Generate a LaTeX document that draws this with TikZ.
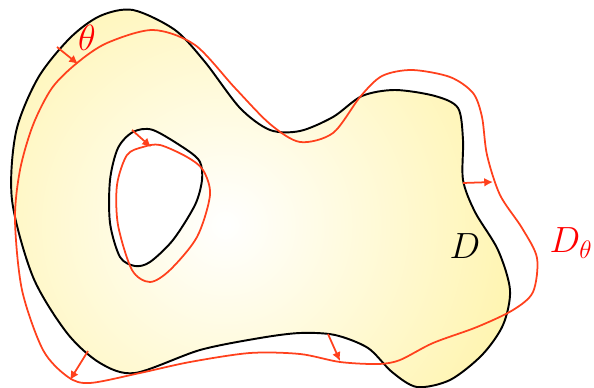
\documentclass[tikz,border=0pt]{standalone}
\usepackage{tikz}
\usetikzlibrary{arrows.meta}
\definecolor{blobyellow}{RGB}{255,238,128}
\definecolor{deformred}{RGB}{255,64,28}

\begin{document}
\begin{tikzpicture}[x=0.02cm, y=-0.02cm,
    boundary/.style={draw=black, line width=1.1pt},
    deformed/.style={draw=deformred, line width=1pt},
    displace/.style={deformred, line width=1pt, arrows={-Latex[width=5pt, length=5pt]}}]
    \useasboundingbox (0,0) rectangle (594,388);

    % domain D with its hole
    \begin{scope}
      \clip plot[smooth cycle] coordinates {(133,10) (175,30) (205,62) (240,108) (270,130) (300,131) (333,117) (362,96) (395,90) (435,96) (458,108) (463,140) (463,180) (475,212) (498,250) (510,290) (503,325) (482,355) (450,380) (417,387) (392,372) (368,348) (335,335) (300,333) (260,338) (200,350) (135,373) (100,363) (67,333) (33,277) (12,200) (16,132) (38,78) (70,38) (100,16)};
      \shade[inner color=white, outer color=blobyellow] (225,225) circle (480);
    \end{scope}
    \path[boundary] plot[smooth cycle] coordinates {(133,10) (175,30) (205,62) (240,108) (270,130) (300,131) (333,117) (362,96) (395,90) (435,96) (458,108) (463,140) (463,180) (475,212) (498,250) (510,290) (503,325) (482,355) (450,380) (417,387) (392,372) (368,348) (335,335) (300,333) (260,338) (200,350) (135,373) (100,363) (67,333) (33,277) (12,200) (16,132) (38,78) (70,38) (100,16)};
    \path[boundary, fill=white] plot[smooth cycle] coordinates {(133,132) (153,130) (187,150) (200,162) (202,180) (195,205) (173,240) (150,262) (135,266) (120,257) (110,223) (110,180) (118,148)};

    % deformed domain D_theta
    \path[deformed] plot[smooth cycle] coordinates {(77,63) (107,43) (153,30) (195,45) (235,88) (270,124) (300,142) (333,133) (360,97) (382,76) (412,70) (450,77) (473,93) (482,117) (487,155) (500,195) (522,228) (537,258) (533,292) (513,310) (477,327) (433,343) (400,360) (378,364) (340,362) (300,354) (250,353) (190,362) (140,373) (90,383) (68,377) (43,350) (22,290) (15,220) (20,170) (33,125) (52,88)};
    \path[deformed] plot[smooth cycle] coordinates {(143,147) (160,145) (187,157) (203,170) (210,195) (197,237) (170,270) (150,282) (132,270) (118,225) (117,185) (127,155)};

    % displacement arrows
    \coordinate (p1) at (57,47);   \coordinate (q1) at (78,64);
    \coordinate (p2) at (132,130); \coordinate (q2) at (151,147);
    \coordinate (p3) at (463,183); \coordinate (q3) at (493,182);
    \coordinate (p4) at (328,334); \coordinate (q4) at (340,361);
    \coordinate (p5) at (88,351);  \coordinate (q5) at (70,380);
    \foreach \i in {1,...,5}
      \draw[displace] (p\i) -- (q\i);

    \node[text=red, font=\huge] (theta) at (87,38) {$\theta$};
    \node[font=\huge] (dom) at (465,246) {$D$};
    \node[text=red, font=\huge] (domtheta) at (571,243) {$D_\theta$};
\end{tikzpicture}
\end{document}
